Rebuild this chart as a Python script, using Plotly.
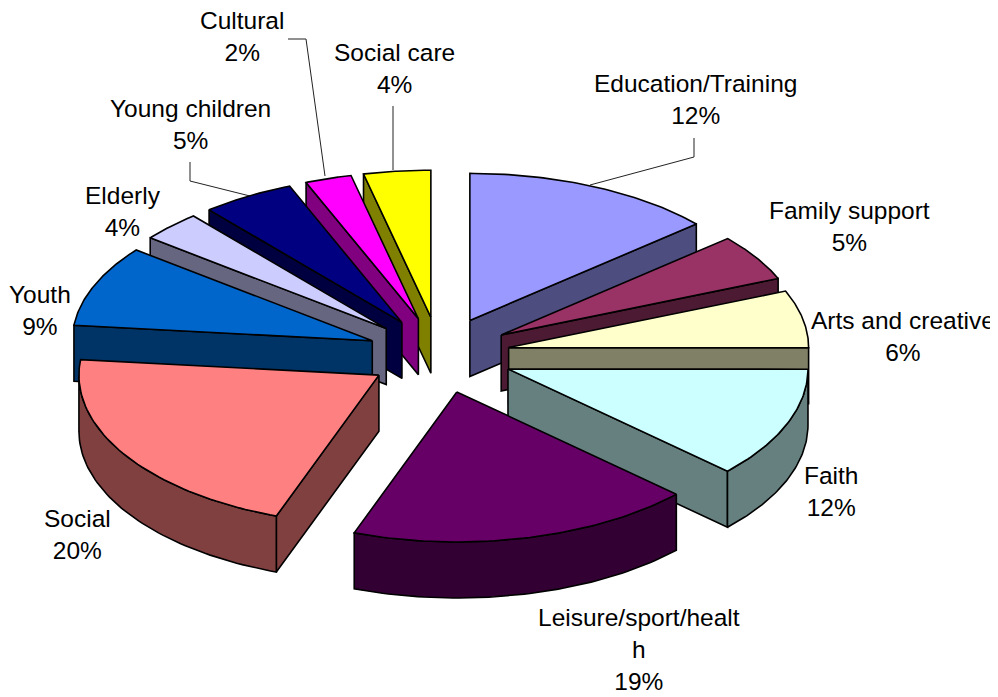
import numpy as np
import plotly.graph_objects as go

categories = ["Education/Training", "Family support", "Arts and creative", "Faith",
              "Leisure/sport/health", "Social", "Youth", "Elderly",
              "Young children", "Cultural", "Social care"]
percent_labels = [12, 5, 6, 12, 19, 20, 9, 4, 5, 2, 4]
# slice sizes as drawn (the tilted view stretches them compared with the printed percentages)
drawn_share = [13.6, 5.1, 6.3, 11.9, 18.6, 21.1, 8.9, 3.3, 5.0, 2.5, 3.6]
top_colors = ["#9999FF", "#993366", "#FFFFCC", "#CCFFFF", "#660066", "#FF8080",
              "#0066CC", "#CCCCFF", "#000080", "#FF00FF", "#FFFF00"]
side_colors = ["#4D4D80", "#4D1A33", "#808066", "#668080", "#330033", "#804040",
               "#003366", "#666680", "#000040", "#800080", "#808000"]
draw_order = [10, 9, 8, 7, 6, 0, 1, 2, 5, 3, 4]
apex_nudge_x = [0, 0, -2, 1, 0, 0, -1, -2, -1, 0, -1]

CX, CY, RX, RY_BACK, RY_FRONT, EXPLODE_X, EXPLODE_Y, DEPTH = 440, 355, 300, 147, 150, 72, 38, 56
PAGE_MARGIN = 8
W, H = 998, 697

shares = np.array(drawn_share, float)
edges = np.concatenate([[0], np.cumsum(shares)]) / shares.sum() * 2 * np.pi


def apex(mid, nudge):
    return CX + np.sin(mid) * EXPLODE_X + nudge, CY - np.cos(mid) * EXPLODE_Y


def rim(ax, ay, th):
    c = np.cos(th)
    return ax + RX * np.sin(th), ay - np.where(c > 0, RY_BACK, RY_FRONT) * c


fig = go.Figure()


def poly(xs, ys, color, name):
    fig.add_trace(go.Scatter(x=list(xs), y=list(ys), mode="lines", fill="toself",
                             fillcolor=color, line=dict(color="black", width=1.6),
                             hoverinfo="text", text=name, showlegend=False))


for i in draw_order:
    a, b = edges[i], edges[i + 1]
    ax, ay = apex((a + b) / 2, apex_nudge_x[i])
    name = f"{categories[i]} {percent_labels[i]}%"
    # radial wall on the clockwise end (faces the viewer on the right half)
    if np.sin(b) > 0.001:
        ex, ey = rim(ax, ay, b)
        poly([ax, ex, ex, ax, ax], [ay, ey, ey + DEPTH, ay + DEPTH, ay], side_colors[i], name)
    # radial wall on the start side (faces the viewer on the left half)
    if np.sin(a) < -0.001:
        ex, ey = rim(ax, ay, a)
        poly([ax, ex, ex, ax, ax], [ay, ey, ey + DEPTH, ay + DEPTH, ay], side_colors[i], name)
    # outer rim wall
    lo, hi = max(a, np.pi / 2), min(b, 3 * np.pi / 2)
    if hi - lo > 0.02:
        th = np.linspace(lo, hi, 60)
        rx, ry = rim(ax, ay, th)
        poly(np.r_[rx, rx[::-1], rx[0]], np.r_[ry, ry[::-1] + DEPTH, ry[0]], side_colors[i], name)
    # top face
    th = np.linspace(a, b, 60)
    rx, ry = rim(ax, ay, th)
    poly(np.r_[ax, rx, ax], np.r_[ay, ry, ay], top_colors[i], name)

label_text = [
    "Education/Training<br>12%", "Family support<br>5%", "Arts and creative<br>6%",
    "Faith<br>12%", "Leisure/sport/healt<br>h<br>19%", "Social<br>20%", "Youth<br>9%",
    "Elderly<br>4%", "Young children<br>5%", "Cultural<br>2%", "Social care<br>4%"]
label_pos = [(695, 99), (849, 226), (903, 336), (831, 491), (639, 649), (77, 534),
             (40, 310), (123, 211), (190, 124), (242, 36), (394, 68)]
for t, (x, y) in zip(label_text, label_pos):
    fig.add_annotation(x=x, y=y, text=t, showarrow=False, xanchor="center", yanchor="middle",
                       font=dict(family="Liberation Sans", size=24.5, color="black"), align="center")

leaders = [[(590, 185), (694, 157), (694, 138)],
           [(250, 196), (190, 181), (190, 162)],
           [(325, 176), (306, 39), (288, 39)],
           [(393, 170), (393, 106)]]
for pts in leaders:
    path = "M " + " L ".join(f"{x},{y}" for x, y in pts)
    fig.add_shape(type="path", path=path, line=dict(color="#222222", width=1), layer="below")

fig.update_layout(width=W - PAGE_MARGIN, height=H - PAGE_MARGIN, margin=dict(l=0, r=0, t=0, b=0),
                  autosize=False, paper_bgcolor="white", plot_bgcolor="white",
                  xaxis=dict(range=[PAGE_MARGIN, W], visible=False, fixedrange=True),
                  yaxis=dict(range=[H, PAGE_MARGIN], visible=False, fixedrange=True))
fig.write_html("out.html", config={"displayModeBar": False})
